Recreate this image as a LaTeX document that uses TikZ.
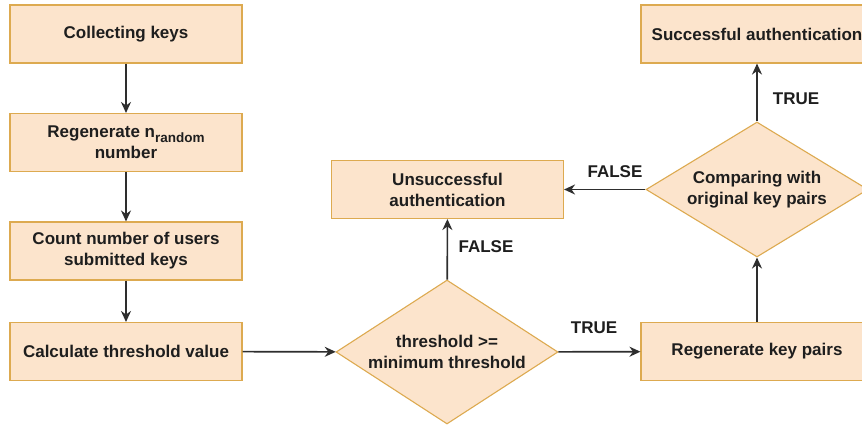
\documentclass[tikz,border=0pt]{standalone}
\usepackage{fontspec}
\setmainfont{Liberation Sans}
\usetikzlibrary{shapes.geometric,arrows.meta}
\definecolor{boxfill}{HTML}{FCE4CC}
\definecolor{boxline}{HTML}{DDAA50}
\definecolor{edgecol}{HTML}{2E2E2E}
\definecolor{txtcol}{HTML}{1E1E1E}
\tikzset{
  stepbox/.style={draw=boxline, fill=boxfill, line width=1.1pt,
    minimum width=232pt, minimum height=58pt, inner sep=0pt,
    align=center, text=txtcol, font=\fontsize{17}{21}\selectfont\bfseries},
  decision/.style={diamond, draw=boxline, fill=boxfill, line width=1.1pt,
    inner sep=0pt, align=center, text=txtcol,
    font=\fontsize{17}{21}\selectfont\bfseries},
  flow/.style={draw=edgecol, line width=1.6pt,
    -{Stealth[length=11pt,width=10pt]}},
  lbl/.style={text=txtcol, font=\fontsize{17}{21}\selectfont\bfseries, inner sep=0pt}
}
\begin{document}
\begin{tikzpicture}[x=1pt,y=-1pt]
\useasboundingbox (0,0) rectangle (862,425);
\fill[white] (0,0) rectangle (862,425);

% left column
\node[stepbox] (collect) at (126,34) {Collecting keys};
\node[stepbox] (nrand) at (126,142.5) {Regenerate n\raisebox{-4.5pt}{\fontsize{13.5}{14}\selectfont random}\\number};
\node[stepbox] (count) at (126,251) {Count number of users\\submitted keys};
\node[stepbox] (calc) at (126,351.5) {Calculate threshold value};

% middle column
\node[decision, aspect=1.54, minimum width=222pt, minimum height=144pt] (thr) at (447,352) {threshold >=\\minimum threshold};
\node[stepbox] (fail) at (447.5,189.5) {Unsuccessful\\authentication};

% right column
\node[stepbox] (regen) at (757,351.5) {Regenerate key pairs};
\node[decision, aspect=1.64, minimum width=222pt, minimum height=135pt] (cmp) at (757,189.5) {Comparing with\\original key pairs};
\node[stepbox] (ok) at (757,34) {Successful authentication};

% connectors
\draw[flow] (collect) -- (nrand);
\draw[flow] (nrand) -- (count);
\draw[flow] (count) -- (calc);
\draw[flow] (calc) -- (thr);
\draw[flow] (thr) -- (fail);
\draw[flow] (thr) -- (regen);
\draw[flow] (regen) -- (cmp);
\draw[flow] (cmp) -- (ok);
\draw[flow] (cmp) -- (fail);

% branch labels
\node[lbl] (lfalse1) at (486,247) {FALSE};
\node[lbl] (ltrue1) at (594,328) {TRUE};
\node[lbl] (ltrue2) at (796,99) {TRUE};
\node[lbl] (lfalse2) at (615,172) {FALSE};
\end{tikzpicture}
\end{document}
